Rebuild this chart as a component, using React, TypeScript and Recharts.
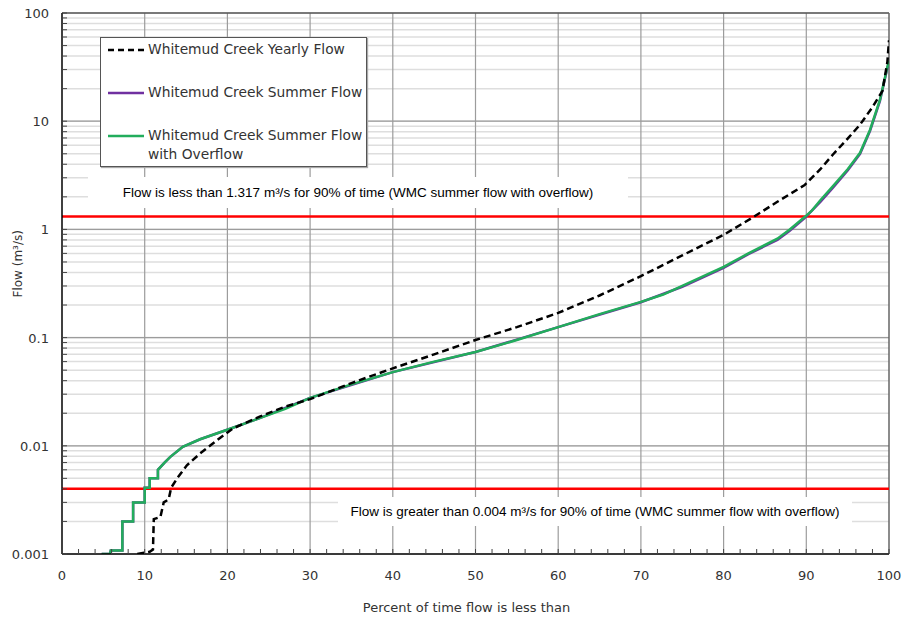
import React from 'react';
import { LineChart, Line, XAxis, YAxis, CartesianGrid, ReferenceLine } from 'recharts';

// percent of time flow is less than  /  flow (m3/s)
const yearlyPct = [9.1, 10.6, 11.0, 11.1, 11.9, 12.3, 12.9, 13.2, 14.0, 15.1, 16.7, 18.7, 20.7, 23.9, 27, 30, 35, 40, 45, 50, 55, 60, 65, 70, 75, 80, 83.6, 86.5, 89.8, 91.7, 93.2, 95, 96.5, 98, 99.2, 99.8, 100];
const yearlyFlow = [0.001, 0.00105, 0.0011, 0.0021, 0.0022, 0.003, 0.0032, 0.0041, 0.0051, 0.0066, 0.0085, 0.0112, 0.0145, 0.0186, 0.023, 0.027, 0.038, 0.052, 0.07, 0.095, 0.125, 0.169, 0.245, 0.37, 0.575, 0.89, 1.3, 1.8, 2.57, 3.6, 4.9, 6.9, 9.3, 13.5, 19, 35, 56];

const overflowPct = [4.8, 5.8, 5.9, 7.3, 7.3, 8.6, 8.6, 10.0, 10.0, 10.6, 10.6, 11.6, 11.6, 12.4, 13.1, 14.6, 16.7, 19.9, 23.9, 27, 30, 35, 40, 45, 50, 55, 60, 65, 70, 72.7, 75, 80, 83, 86.5, 88, 89.8, 90.7, 91.7, 93.2, 95, 96.5, 97.7, 98.9, 99.8, 100];
const overflowFlow = [0.001, 0.001, 0.00108, 0.00108, 0.002, 0.002, 0.003, 0.003, 0.0041, 0.0041, 0.005, 0.005, 0.006, 0.007, 0.0079, 0.0098, 0.0115, 0.014, 0.018, 0.022, 0.0277, 0.037, 0.048, 0.06, 0.0736, 0.095, 0.125, 0.165, 0.214, 0.25, 0.3, 0.45, 0.6, 0.82, 1.0, 1.3, 1.5, 1.86, 2.5, 3.6, 5.1, 8.3, 15.7, 31.6, 36];

const summerPct = [4.8, 5.8, 5.9, 7.3, 7.3, 8.6, 8.6, 10.0, 10.0, 10.6, 10.6, 11.6, 11.6, 12.4, 13.1, 14.6, 16.7, 19.9, 23.9, 30, 40, 50, 60, 70, 75, 80, 83, 86.5, 88, 89.8, 91.7, 93.2, 95, 96.5, 97.7, 98.9, 99.8, 100];
const summerFlow = [0.001, 0.001, 0.00108, 0.00108, 0.002, 0.002, 0.003, 0.003, 0.0041, 0.0041, 0.005, 0.005, 0.006, 0.007, 0.0079, 0.0098, 0.0115, 0.014, 0.018, 0.0277, 0.048, 0.0736, 0.125, 0.212, 0.295, 0.44, 0.59, 0.8, 0.97, 1.27, 1.8, 2.42, 3.5, 5.0, 8.1, 15.3, 31, 35];

const xTicks = [0, 2, 4, 6, 8, 10, 12, 14, 16, 18, 20, 22, 24, 26, 28, 30, 32, 34, 36, 38, 40, 42, 44, 46, 48, 50, 52, 54, 56, 58, 60, 62, 64, 66, 68, 70, 72, 74, 76, 78, 80, 82, 84, 86, 88, 90, 92, 94, 96, 98, 100];
const xMajor = [10, 20, 30, 40, 50, 60, 70, 80, 90];
const yMajor = [0.001, 0.01, 0.1, 1, 10, 100];
const yMinorSteps = [2, 3, 4, 5, 6, 7, 8, 9];

const thresholds = [1.317, 0.004];

const toRows = (pct: number[], flow: number[]) => pct.map((p, i) => ({ pct: p, flow: flow[i] }));
const yearlyData = toRows(yearlyPct, yearlyFlow);
const overflowData = toRows(overflowPct, overflowFlow);
const summerData = toRows(summerPct, summerFlow);

const yTicks: number[] = [];
yMajor.forEach((d, i) => {
  yTicks.push(d);
  if (i < yMajor.length - 1) yMinorSteps.forEach((m) => yTicks.push(+(d * m).toPrecision(3)));
});

const C = {
  yearly: '#000000',
  summer: '#7030a0',
  overflow: '#22ad5c',
  red: '#ff0000',
  minor: '#dedede',
  major: '#9c9c9c',
  text: '#333333',
};

const AXIS_FONT = '"DejaVu Sans", sans-serif';
const NOTE_FONT = '"Liberation Sans", Arial, sans-serif';

const XTick = (props: any) => {
  const { x, y, payload } = props;
  const v = payload.value;
  return (
    <g>
      <line x1={x} x2={x} y1={y} y2={y - 5} stroke="#444" />
      {v % 10 === 0 && (
        <text x={x} y={y + 26} textAnchor="middle" fill={C.text} fontSize={13} fontFamily={AXIS_FONT}>
          {v}
        </text>
      )}
    </g>
  );
};

const YTick = (props: any) => {
  const { x, y, payload } = props;
  const v = payload.value;
  return (
    <g>
      <line x1={x} x2={x + 5} y1={y} y2={y} stroke="#444" />
      {yMajor.includes(v) && (
        <text x={x - 13} y={y + 5} textAnchor="end" fill={C.text} fontSize={13} fontFamily={AXIS_FONT}>
          {String(v)}
        </text>
      )}
    </g>
  );
};

const legendItems = [
  { label: ['Whitemud Creek Yearly Flow'], color: C.yearly, dash: true },
  { label: ['Whitemud Creek Summer Flow'], color: C.summer, dash: false },
  { label: ['Whitemud Creek Summer Flow', 'with Overflow'], color: C.overflow, dash: false },
];

const noteStyle: React.CSSProperties = {
  position: 'absolute',
  background: '#fff',
  fontFamily: NOTE_FONT,
  fontSize: 13.5,
  color: '#000',
  display: 'flex',
  alignItems: 'center',
  justifyContent: 'center',
  whiteSpace: 'nowrap',
};

export default function App() {
  return (
    <div style={{ position: 'fixed', left: 0, top: 0, width: 902, height: 619, background: '#fff' }}>
      <LineChart width={902} height={619} data={yearlyData} margin={{ top: 13, right: 13, left: 12, bottom: 5 }}>
        <CartesianGrid vertical={false} stroke={C.minor} strokeWidth={1.5} />
        <XAxis
          type="number"
          dataKey="pct"
          domain={[0, 100]}
          ticks={xTicks}
          interval={0}
          allowDataOverflow
          height={60}
          tickSize={0}
          tickMargin={0}
          tickLine={false}
          tick={(p: any) => <XTick {...p} />}
          axisLine={{ stroke: '#000', strokeWidth: 1.5 }}
          label={{
            value: 'Percent of time flow is less than',
            position: 'insideBottom',
            offset: 2,
            dx: -9,
            fill: C.text,
            fontSize: 13,
            fontFamily: AXIS_FONT,
          }}
        />
        <YAxis
          type="number"
          scale="log"
          domain={[0.001, 100]}
          ticks={yTicks}
          interval={0}
          allowDataOverflow
          width={50}
          tickSize={0}
          tickMargin={0}
          tickLine={false}
          tick={(p: any) => <YTick {...p} />}
          axisLine={{ stroke: '#000', strokeWidth: 1.5 }}
          label={{
            value: 'Flow (m³/s)',
            angle: -90,
            position: 'insideLeft',
            offset: 6,
            dy: 14,
            fill: C.text,
            fontSize: 12,
            fontFamily: AXIS_FONT,
          }}
        />
        {yMajor.slice(1, -1).map((v) => (
          <ReferenceLine key={'ym' + v} y={v} stroke={C.major} strokeWidth={1.2} />
        ))}
        {xMajor.map((v) => (
          <ReferenceLine key={'xm' + v} x={v} stroke={C.major} strokeWidth={1.2} />
        ))}
        <ReferenceLine y={100} stroke="#555" strokeWidth={1.5} />
        <ReferenceLine x={100} stroke="#666" strokeWidth={1.5} />
        {thresholds.map((v) => (
          <ReferenceLine key={'t' + v} y={v} stroke={C.red} strokeWidth={2.5} />
        ))}
        <Line data={summerData} dataKey="flow" type="linear" stroke={C.summer} strokeWidth={2.5} dot={false} isAnimationActive={false} />
        <Line data={overflowData} dataKey="flow" type="linear" stroke={C.overflow} strokeWidth={2.5} dot={false} isAnimationActive={false} />
        <Line data={yearlyData} dataKey="flow" type="linear" stroke={C.yearly} strokeWidth={2.5} strokeDasharray="7 4" dot={false} isAnimationActive={false} />
      </LineChart>

      {/* legend */}
      <div
        style={{
          position: 'absolute',
          left: 100,
          top: 37,
          width: 265,
          height: 128,
          background: '#fff',
          border: '1.5px solid #555',
          boxShadow: '1px 1px 1px #aaa',
          fontFamily: AXIS_FONT,
          fontSize: 13.8,
          color: C.text,
        }}
      >
        {legendItems.map((it, i) => (
          <div key={i} style={{ position: 'absolute', left: 6, top: [2, 45, 88][i], display: 'flex', alignItems: 'flex-start' }}>
            <svg width={38} height={19}>
              <line x1={1} x2={37} y1={10} y2={10} stroke={it.color} strokeWidth={2.5} strokeDasharray={it.dash ? '6 4' : undefined} />
            </svg>
            <div style={{ marginLeft: 3, lineHeight: '19px', whiteSpace: 'nowrap' }}>
              {it.label.map((l) => (
                <div key={l}>{l}</div>
              ))}
            </div>
          </div>
        ))}
      </div>

      {/* threshold notes */}
      <div style={{ ...noteStyle, left: 88, top: 177, width: 540, height: 31 }}>
        Flow is less than 1.317 m³/s for 90% of time (WMC summer flow with overflow)
      </div>
      <div style={{ ...noteStyle, left: 338, top: 497, width: 514, height: 29 }}>
        Flow is greater than 0.004 m³/s for 90% of time (WMC summer flow with overflow)
      </div>
    </div>
  );
}
